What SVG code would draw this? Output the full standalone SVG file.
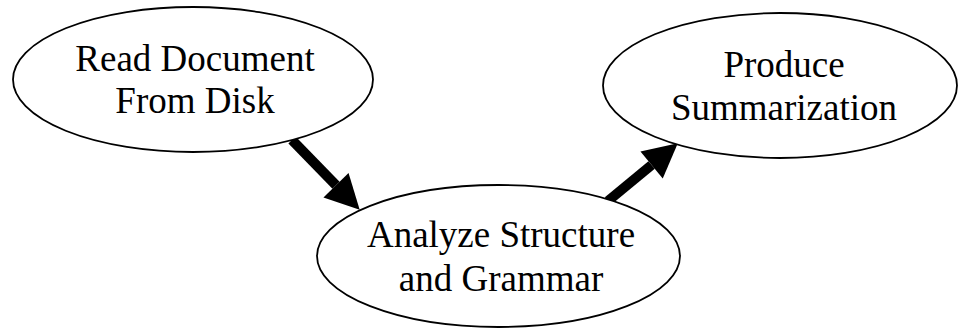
<svg xmlns="http://www.w3.org/2000/svg" width="958" height="330" viewBox="0 0 958 330">
  <style>
    .node ellipse { fill: #ffffff; stroke: #000000; stroke-width: 1.8; }
    .node text { font-family: "Liberation Serif", "Times New Roman", serif; font-size: 37px; fill: #000000; text-anchor: middle; }
    .edge { stroke: #000000; stroke-width: 10; fill: none; marker-end: url(#head); }
  </style>
  <defs>
    <marker id="head" markerUnits="userSpaceOnUse" markerWidth="36" markerHeight="36" refX="0" refY="17.5" orient="auto" overflow="visible">
      <path d="M0,0 L34,17.5 L0,35 Z" fill="#000000"/>
    </marker>
  </defs>
  <rect width="958" height="330" fill="#ffffff"/>
  <g id="connectors">
    <line class="edge" x1="292" y1="140" x2="336" y2="185.3"/>
    <line class="edge" x1="608" y1="201" x2="651.6" y2="165"/>
  </g>
  <g id="node-read" class="node">
    <ellipse cx="193" cy="79.5" rx="180" ry="72.5"/>
    <text x="195" y="71">Read Document</text>
    <text x="195" y="113">From Disk</text>
  </g>
  <g id="node-analyze" class="node">
    <ellipse cx="498.5" cy="256" rx="181.5" ry="71"/>
    <text x="501" y="247">Analyze Structure</text>
    <text x="501" y="291">and Grammar</text>
  </g>
  <g id="node-produce" class="node">
    <ellipse cx="780" cy="85.5" rx="177" ry="72.5"/>
    <text x="784" y="77">Produce</text>
    <text x="784" y="119.5">Summarization</text>
  </g>
</svg>
